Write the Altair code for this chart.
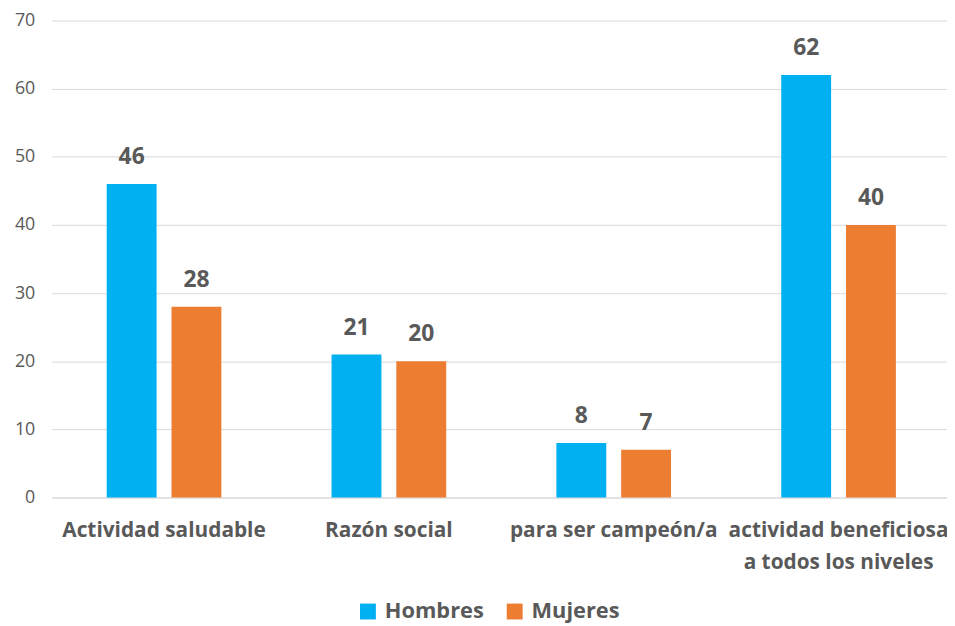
import altair as alt
import pandas as pd

categories = ["Actividad saludable", "Razón social", "para ser campeón/a",
              "actividad beneficiosa|a todos los niveles"]
series = ["Hombres", "Mujeres"]
hombres = [46, 21, 8, 62]
mujeres = [28, 20, 7, 40]
colors = ["#00B0F0", "#ED7D31"]

rows = []
for c, h, m in zip(categories, hombres, mujeres):
    rows.append({"cat": c, "serie": "Hombres", "valor": h})
    rows.append({"cat": c, "serie": "Mujeres", "valor": m})
df = pd.DataFrame(rows)

FONT = "Open Sans"
GRAY = "#595959"

x = alt.X("cat:N", sort=categories,
          scale=alt.Scale(paddingInner=0.49, paddingOuter=0.245, range=[0, 907]),
          axis=alt.Axis(title=None, labelAngle=0, labelFontSize=21,
                        labelFontWeight="bold", labelColor=GRAY, labelFont=FONT,
                        labelPadding=22, labelLineHeight=33,
                        labelExpr="split(datum.label, '|')",
                        ticks=False, domain=True, domainColor="#D9D9D9",
                        labelLimit=300))
xo = alt.XOffset("serie:N", sort=series, scale=alt.Scale(paddingInner=0.23))
y = alt.Y("valor:Q", scale=alt.Scale(domain=[0, 70]),
          axis=alt.Axis(title=None, values=list(range(0, 71, 10)), labelFontSize=18,
                        labelColor=GRAY, labelFont=FONT, labelPadding=17,
                        ticks=False, domain=False, gridColor="#D9D9D9"))

base = alt.Chart(df).encode(x=x, xOffset=xo, y=y)

bars = base.mark_bar().encode(
    color=alt.Color("serie:N", sort=series,
                    scale=alt.Scale(domain=series, range=colors),
                    legend=alt.Legend(title=None, orient="none", legendX=308, legendY=585,
                                      direction="horizontal", symbolType="square",
                                      symbolSize=256, labelFontSize=22,
                                      labelFontWeight="bold", labelColor=GRAY,
                                      labelFont=FONT, columnPadding=20, labelOffset=6,
                                      symbolStrokeWidth=0))
)
labels = base.mark_text(dy=-27, fontSize=23, fontWeight="bold", color=GRAY,
                        font=FONT).encode(text="valor:Q")

chart = (bars + labels).properties(
    width=903, height=481,
    autosize=alt.AutoSizeParams(type="none"),
    padding={"left": 44, "top": 10, "right": 0, "bottom": 135}
).configure_view(stroke=None)

chart.save("out.html", embed_options={"renderer": "svg", "actions": False})
